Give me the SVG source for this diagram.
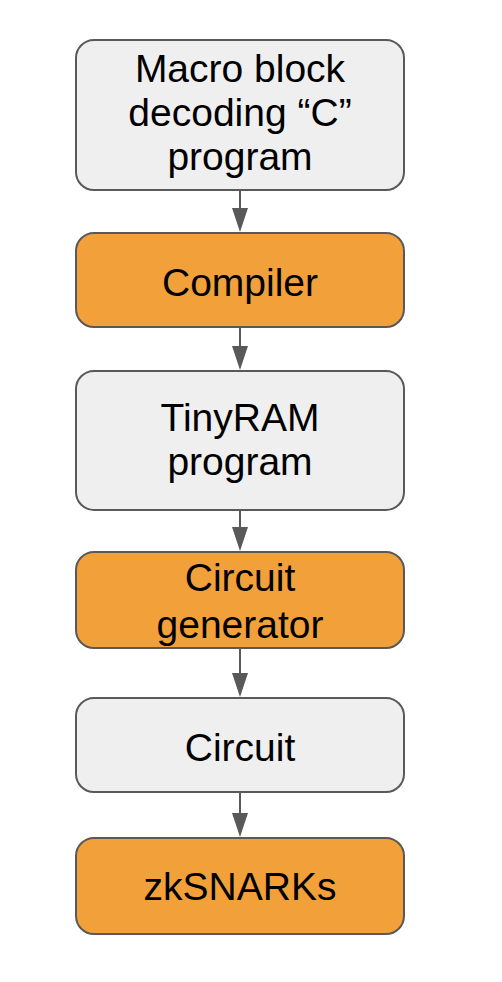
<svg xmlns="http://www.w3.org/2000/svg" width="502" height="982" viewBox="0 0 502 982">
<style>
.box{stroke:#595959;stroke-width:2}
.grey{fill:#efefef}
.orange{fill:#f2a03a}
text{font-family:"Liberation Sans",Arial,sans-serif;font-size:39px;fill:#000;text-anchor:middle}
.edge{stroke:#595959;stroke-width:2;fill:none}
.head{fill:#595959}
</style>
<rect width="502" height="982" fill="#fff"/>
<g id="connectors">
<line class="edge" x1="240" y1="190" x2="240" y2="212"/><polygon class="head" points="232,208 248,208 240,232"/>
<line class="edge" x1="240" y1="327" x2="240" y2="350"/><polygon class="head" points="232,346 248,346 240,370"/>
<line class="edge" x1="240" y1="510" x2="240" y2="531"/><polygon class="head" points="232,527 248,527 240,551"/>
<line class="edge" x1="240" y1="648" x2="240" y2="677"/><polygon class="head" points="232,673 248,673 240,697"/>
<line class="edge" x1="240" y1="792" x2="240" y2="817"/><polygon class="head" points="232,813 248,813 240,837"/>
</g>
<g id="n1"><rect class="box grey" x="76" y="40" width="328" height="150" rx="18"/>
<text x="240" y="82">Macro block</text><text x="240" y="126">decoding “C”</text><text x="240" y="170">program</text></g>
<g id="n2"><rect class="box orange" x="76" y="233" width="328" height="94" rx="18"/>
<text x="240" y="296">Compiler</text></g>
<g id="n3"><rect class="box grey" x="76" y="371" width="328" height="139" rx="18"/>
<text x="240" y="431">TinyRAM</text><text x="240" y="475">program</text></g>
<g id="n4"><rect class="box orange" x="76" y="552" width="328" height="96" rx="18"/>
<text x="240" y="591">Circuit</text><text x="240" y="638">generator</text></g>
<g id="n5"><rect class="box grey" x="76" y="698" width="328" height="94" rx="18"/>
<text x="240" y="761">Circuit</text></g>
<g id="n6"><rect class="box orange" x="76" y="838" width="328" height="96" rx="18"/>
<text x="240" y="900">zkSNARKs</text></g>
</svg>
